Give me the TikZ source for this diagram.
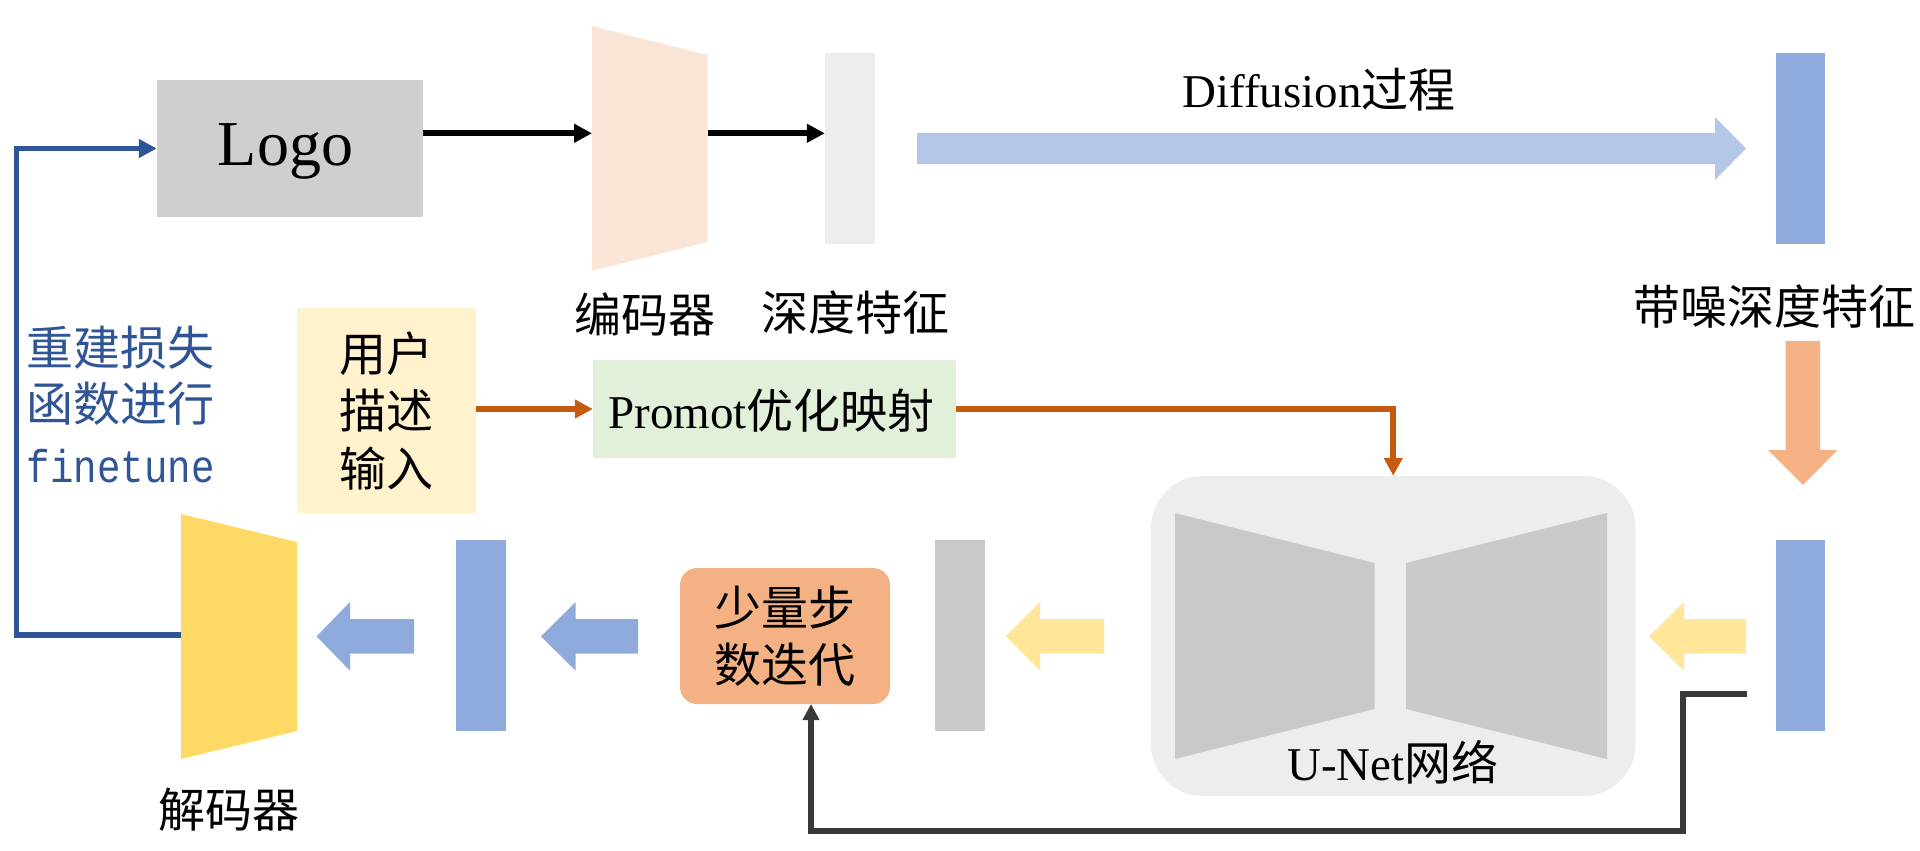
\documentclass[tikz,border=0pt]{standalone}
\usepackage{fontspec}
\setmainfont{Liberation Serif}
\newfontfamily\cjk{Noto Sans CJK SC}
\newfontfamily\monof[FakeStretch=0.85]{Liberation Mono}
\usetikzlibrary{arrows.meta}
\definecolor{logogray}{HTML}{D0CECE}
\definecolor{encfill}{HTML}{FBE5D6}
\definecolor{lightgray}{HTML}{EDEDED}
\definecolor{diffblue}{HTML}{B4C7E7}
\definecolor{barblue}{HTML}{8FAADC}
\definecolor{peach}{HTML}{F4B183}
\definecolor{userfill}{HTML}{FFF2CC}
\definecolor{promfill}{HTML}{E2F0D9}
\definecolor{orangeline}{HTML}{C55A11}
\definecolor{fbblue}{HTML}{2F5597}
\definecolor{decfill}{HTML}{FFD966}
\definecolor{midgray}{HTML}{C9C9C9}
\definecolor{lightyellow}{HTML}{FFE699}
\definecolor{darkline}{HTML}{3B3838}
\newcommand{\leftblockarrow}[5]{%
  \fill[#5] (#1,#4) -- (#2,#4-34.35) -- (#2,#4-17.35) -- (#3,#4-17.35) -- (#3,#4+17.35) -- (#2,#4+17.35) -- (#2,#4+34.35) -- cycle;}
\begin{document}
\begin{tikzpicture}[x=1pt,y=-1pt,
  box/.style={draw=none, inner sep=0pt},
  barnode/.style={box, minimum width=49.5pt, minimum height=191pt},
  cjktext/.style={font=\cjk\fontsize{47}{57.5}\selectfont, inner sep=0pt, align=center},
  mixtext/.style={font=\fontsize{47}{57.5}\selectfont, inner sep=0pt, anchor=base},
  blk/.style={line width=6pt, -{Triangle[length=18pt,width=18pt]}},
  orng/.style={draw=orangeline, line width=6pt, -{Triangle[length=18pt,width=18pt]}},
  fbline/.style={draw=fbblue, line width=5.5pt, -{Triangle[length=18pt,width=18pt]}},
  darkarrow/.style={draw=darkline, line width=6pt, -{Triangle[length=16pt,width=16pt]}}]
\useasboundingbox (0,0) rectangle (1920,851);
\fill[white] (0,0) rectangle (1920,851);

% Logo
\node[box, fill=logogray, minimum width=265.5pt, minimum height=137pt] (logo) at (289.75,148.5) {};
\node[font=\fontsize{64}{70}\selectfont, inner sep=0pt, anchor=base] (logotxt) at (285.5,165) {Logo};

% encoder
\fill[encfill] (592,26) -- (707.7,55) -- (707.7,242) -- (592,270.7) -- cycle;
\coordinate (encin) at (592,133.3);
\coordinate (encout) at (707.7,133.3);
\node[cjktext] (enclab) at (645,314) {编码器};

% depth feature
\node[barnode, fill=lightgray] (feat) at (849.75,148.4) {};
\node[cjktext] (featlab) at (855,312.5) {深度特征};

\draw[blk] (logo.east |- encin) -- (encin);
\draw[blk] (encout) -- (encout -| feat.west);

% diffusion arrow
\fill[diffblue] (917,133) -- (1715,133) -- (1715,117) -- (1746,148.5) -- (1715,180) -- (1715,164) -- (917,164) -- cycle;
\node[mixtext] (difflab) at (1319,107) {Diffusion{\cjk 过程}};

% noisy features
\node[barnode, fill=barblue, minimum width=49pt] (noisy) at (1800.5,148.5) {};
\node[cjktext] (noisylab) at (1774.5,306.5) {带噪深度特征};
\fill[peach] (1785.5,341) -- (1820,341) -- (1820,450) -- (1837.5,450) -- (1803,485) -- (1768,450) -- (1785.5,450) -- cycle;
\node[barnode, fill=barblue, minimum width=49pt] (noisyb) at (1800.5,635.5) {};

% user input and prompt
\node[box, fill=userfill, minimum width=179pt, minimum height=205pt, cjktext] (user) at (386.5,410.5) {用户\\描述\\输入};
\node[box, fill=promfill, minimum width=363pt, minimum height=98pt] (prom) at (774.5,409) {};
\node[mixtext] (promtxt) at (771.5,428) {Promot{\cjk 优化映射}};

% U-Net
\node[box, fill=lightgray, rounded corners=52pt, minimum width=484.5pt, minimum height=320pt] (unet) at (1393.25,636) {};
\fill[midgray] (1175,513) -- (1374.6,563) -- (1374.6,709) -- (1175,759) -- cycle;
\fill[midgray] (1406,563) -- (1607,513) -- (1607,759) -- (1406,709) -- cycle;
\node[mixtext] (unetlab) at (1393,780) {U-Net{\cjk 网络}};

\draw[orng] (prom.west -| user.east) -- (prom.west);
\draw[orng] (prom.east) -| (unet.north);

% bottom row
\node[barnode, fill=midgray] (graybar) at (959.75,635.5) {};
\node[box, fill=peach, rounded corners=17pt, minimum width=210pt, minimum height=136pt, cjktext] (iter) at (785,636) {少量步\\数迭代};
\node[barnode, fill=barblue, minimum width=50pt] (bluebar) at (481,635.5) {};
\fill[decfill] (181,514) -- (297,542) -- (297,731) -- (181,759) -- cycle;
\coordinate (decin) at (181,635);
\node[cjktext] (declab) at (229,810) {解码器};

\leftblockarrow{1649}{1684}{1746}{636.35}{lightyellow}
\leftblockarrow{1006}{1040}{1104}{636.35}{lightyellow}
\leftblockarrow{541}{575.6}{638}{636.35}{barblue}
\leftblockarrow{316.6}{350}{414}{636.35}{barblue}

% feedback line
\coordinate (fbcorner) at (16.7,635);
\draw[fbline] (decin) -- (fbcorner) |- (logo.west);
\node[cjktext, text=fbblue] (lossa) at (120.75,348) {重建损失};
\node[cjktext, text=fbblue] (lossb) at (120.75,404) {函数进行};
\node[font=\monof\fontsize{46}{50}\selectfont, text=fbblue, inner sep=0pt, anchor=base] (lossc) at (120.75,482) {finetune};

% iteration loop
\coordinate (nstart) at (1746.7,693.7);
\coordinate (ncorner) at (1683,831);
\coordinate (iterin) at (811,704);
\draw[darkarrow] (nstart) -| (ncorner) -| (iterin);
\end{tikzpicture}
\end{document}
